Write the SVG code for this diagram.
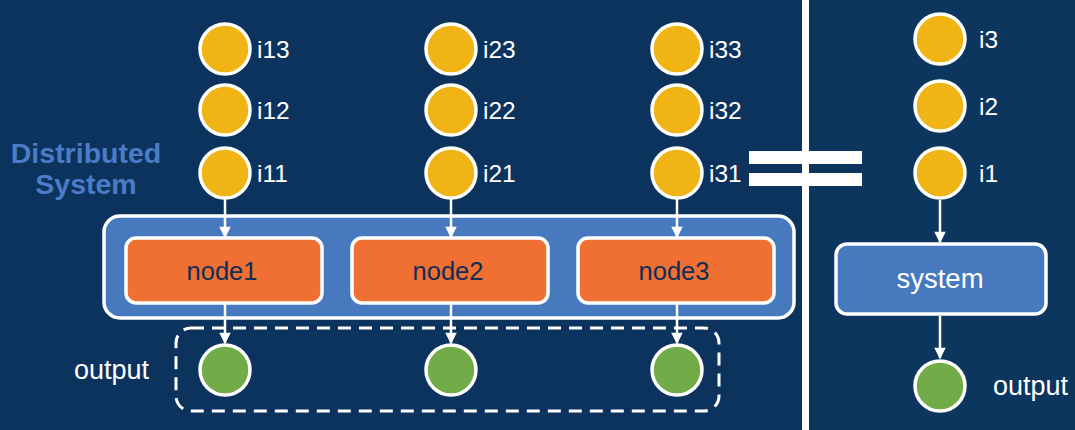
<svg xmlns="http://www.w3.org/2000/svg" width="1075" height="430" viewBox="0 0 1075 430">
<style>
.inp{fill:#F0B414;stroke:#fff;stroke-width:3.5}
.out{fill:#72AC48;stroke:#fff;stroke-width:3.5}
.lbl{font-family:"Liberation Sans",Arial,sans-serif;font-size:24.5px;fill:#fff}
.olbl{font-family:"Liberation Sans",Arial,sans-serif;font-size:27px;fill:#fff}
.ntx{font-family:"Liberation Sans",Arial,sans-serif;font-size:25.5px;fill:#0D2F55;text-anchor:middle}
.node{fill:#F07033;stroke:#fff;stroke-width:3.5}
.edge{stroke:#fff;stroke-width:2.5;fill:none;marker-end:url(#ah)}
</style>
<defs>
<marker id="ah" viewBox="0 0 10 10" refX="9" refY="5" markerWidth="5" markerHeight="4.6" orient="auto" markerUnits="strokeWidth">
<path d="M0,0 L10,5 L0,10 z" fill="#fff"/>
</marker>
</defs>
<rect width="1075" height="430" fill="#0C335E"/>
<rect x="809" y="0" width="266" height="430" fill="#0D365F"/>
<rect x="802" y="0" width="7" height="430" fill="#fff"/>
<g id="equals">
<rect x="749" y="151" width="113" height="13" fill="#fff"/>
<rect x="749" y="173" width="113" height="13" fill="#fff"/>
</g>
<g id="title">
<text x="86" y="163" font-family="Liberation Sans,Arial,sans-serif" font-size="28.5" font-weight="bold" fill="#4A7DC6" text-anchor="middle">Distributed</text>
<text x="86" y="194" font-family="Liberation Sans,Arial,sans-serif" font-size="28.5" font-weight="bold" fill="#4A7DC6" text-anchor="middle">System</text>
</g>
<g id="dist-system">
<rect x="104" y="216" width="690" height="102" rx="16" fill="#4679BE" stroke="#fff" stroke-width="3.5"/>
</g>
<g id="output-group">
<rect x="176" y="328" width="543" height="83" rx="15" fill="none" stroke="#fff" stroke-width="3" stroke-dasharray="13,8"/>
</g>
<g id="connectors">
<line class="edge" x1="225" y1="199" x2="225" y2="237"/>
<line class="edge" x1="451" y1="199" x2="451" y2="237"/>
<line class="edge" x1="677" y1="199" x2="677" y2="237"/>
<line class="edge" x1="225" y1="304" x2="225" y2="343"/>
<line class="edge" x1="451" y1="304" x2="451" y2="343"/>
<line class="edge" x1="677" y1="304" x2="677" y2="343"/>
<line class="edge" x1="940" y1="200" x2="940" y2="242"/>
<line class="edge" x1="940" y1="316" x2="940" y2="358"/>
</g>
<g id="node1"><rect class="node" x="126" y="238" width="196" height="65" rx="10"/><text class="ntx" x="222" y="280">node1</text></g>
<g id="node2"><rect class="node" x="352" y="238" width="196" height="65" rx="10"/><text class="ntx" x="448" y="280">node2</text></g>
<g id="node3"><rect class="node" x="578" y="238" width="196" height="65" rx="10"/><text class="ntx" x="674" y="280">node3</text></g>
<g id="i13"><circle class="inp" cx="225" cy="49" r="25"/><text class="lbl" x="257" y="58">i13</text></g>
<g id="i12"><circle class="inp" cx="225" cy="110" r="25"/><text class="lbl" x="257" y="119">i12</text></g>
<g id="i11"><circle class="inp" cx="225" cy="173" r="25"/><text class="lbl" x="257" y="182">i11</text></g>
<g id="i23"><circle class="inp" cx="451" cy="49" r="25"/><text class="lbl" x="483" y="58">i23</text></g>
<g id="i22"><circle class="inp" cx="451" cy="110" r="25"/><text class="lbl" x="483" y="119">i22</text></g>
<g id="i21"><circle class="inp" cx="451" cy="173" r="25"/><text class="lbl" x="483" y="182">i21</text></g>
<g id="i33"><circle class="inp" cx="677" cy="49" r="25"/><text class="lbl" x="709" y="58">i33</text></g>
<g id="i32"><circle class="inp" cx="677" cy="110" r="25"/><text class="lbl" x="709" y="119">i32</text></g>
<g id="i31"><circle class="inp" cx="677" cy="173" r="25"/><text class="lbl" x="709" y="182">i31</text></g>
<g id="out1"><circle class="out" cx="225" cy="370" r="25"/></g>
<g id="out2"><circle class="out" cx="451" cy="370" r="25"/></g>
<g id="out3"><circle class="out" cx="677" cy="370" r="25"/></g>
<g id="output-label"><text class="olbl" x="74" y="379">output</text></g>
<g id="i3"><circle class="inp" cx="940" cy="39" r="25"/><text class="lbl" x="979" y="48">i3</text></g>
<g id="i2"><circle class="inp" cx="940" cy="106" r="25"/><text class="lbl" x="979" y="115">i2</text></g>
<g id="i1"><circle class="inp" cx="940" cy="173" r="25"/><text class="lbl" x="979" y="182">i1</text></g>
<g id="system"><rect x="836" y="244" width="210" height="70" rx="11" fill="#4679BE" stroke="#fff" stroke-width="3.5"/><text x="940" y="288" font-family="Liberation Sans,Arial,sans-serif" font-size="27.5" fill="#fff" text-anchor="middle">system</text></g>
<g id="output-single"><circle class="out" cx="940" cy="386" r="25"/><text class="olbl" x="993" y="395">output</text></g>
</svg>
